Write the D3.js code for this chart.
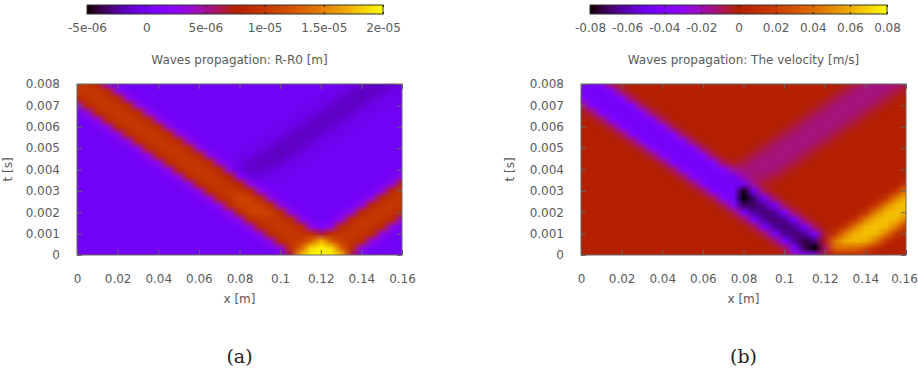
<!DOCTYPE html>
<html><head><meta charset="utf-8">
<script src="https://cdn.jsdelivr.net/npm/d3@7"></script>
<style>
html,body{margin:0;padding:0;background:#fff;}
svg{display:block;}
</style></head><body>
<svg id="chart" width="918" height="390"></svg>
<script>
// ---------------- data ----------------
const xGrid = [0,0.005,0.01,0.015,0.02,0.025,0.03,0.035,0.04,0.045,0.05,0.055,0.06,0.065,0.07,0.075,0.08,0.085,0.09,0.095,0.1,0.105,0.11,0.115,0.12,0.125,0.13,0.135,0.14,0.145,0.15,0.155,0.16];
const tGrid = [0,0.000333,0.000667,0.001,0.001333,0.001667,0.002,0.002333,0.002667,0.003,0.003333,0.003667,0.004,0.004333,0.004667,0.005,0.005333,0.005667,0.006,0.006333,0.006667,0.007,0.007333,0.007667,0.008];
const xTicks = [0,0.02,0.04,0.06,0.08,0.1,0.12,0.14,0.16];
const tTicks = [0,0.001,0.002,0.003,0.004,0.005,0.006,0.007,0.008];
const cbTicksA = [-5e-6,0,5e-6,1e-5,1.5e-5,2e-5];
const cbLabelsA = ["-5e-06","0","5e-06","1e-05","1.5e-05","2e-05"];
const cbTicksB = [-0.08,-0.06,-0.04,-0.02,0,0.02,0.04,0.06,0.08];
const cbLabelsB = ["-0.08","-0.06","-0.04","-0.02","0","0.02","0.04","0.06","0.08"];

// R-R0 in 1e-6 m ; one row per tGrid value, one column per xGrid value
const dispRows = [
[0,0,0,0,0,0,0,0,0,0,0,0,0,0,0,0,0,0,0,0,0.8,6.4,17.2,19.6,20,19.6,17.2,6.4,0.8,0,0,0,0],
[0,0,0,0,0,0,0,0,0,0,0,0,0,0,0,0,0,0,0,0.4,3.2,9,13,18.6,19.6,18.6,13,9,3.2,0.4,0,0,0],
[0,0,0,0,0,0,0,0,0,0,0,0,0,0,0,0,0,0,0.4,3.2,8.6,9.8,10.4,13,17.2,13,10.4,9.8,8.6,3.2,0.4,0,0],
[0,0,0,0,0,0,0,0,0,0,0,0,0,0,0,0,0,0.4,3.2,8.6,9.8,10,9.8,9,6.4,9,9.8,10,9.8,8.6,3.2,0.4,0],
[0,0,0,0,0,0,0,0,0,0,0,0,0,0,0,0,0.4,3.2,8.6,9.8,10,9.8,8.6,3.2,0.8,3.2,8.6,9.8,10,9.8,8.6,3.2,0.4],
[0,0,0,0,0,0,0,0,0,0,0,0,0,0,0,0.4,3.2,8.6,9.8,10,9.8,8.6,3.2,0.4,0,0.4,3.2,8.6,9.8,10,9.8,8.6,3.2],
[0,0,0,0,0,0,0,0,0,0,0,0,0,0,0.4,3.2,8.6,10.8,11,10.8,8.6,3.2,0.4,0,0,0,0.4,3.2,8.6,9.8,10,9.8,8.6],
[0,0,0,0,0,0,0,0,0,0,0,0,0,0.4,3.2,8.6,10.8,11,10.8,8.6,3.2,0.4,0,0,0,0,0,0.4,3.2,8.6,9.8,10,9.8],
[0,0,0,0,0,0,0,0,0,0,0,0,0.4,3.2,8.6,9.8,11,10.8,8.6,3.2,0.4,0,0,0,0,0,0,0,0.4,3.2,8.6,9.8,10],
[0,0,0,0,0,0,0,0,0,0,0,0.4,3.2,8.6,9.8,10,9.8,8.6,3.2,0.4,0,0,0,0,0,0,0,0,0,0.4,3.2,8.6,9.8],
[0,0,0,0,0,0,0,0,0,0,0.4,3.2,8.6,9.7,9.7,9.4,8.2,2.9,0.3,0,0,0,0,0,0,0,0,0,0,0,0.4,3.2,8.6],
[0,0,0,0,0,0,0,0,0,0.4,3.2,8.6,9.8,9.9,9.5,7.9,2.3,-0.5,-0.7,-0.3,-0.1,0,0,0,0,0,0,0,0,0,0,0.4,3.2],
[0,0,0,0,0,0,0,0,0.4,3.2,8.6,9.8,10,9.8,8.5,2.8,-0.5,-1.3,-1.3,-0.9,-0.4,-0.1,0,0,0,0,0,0,0,0,0,0,0.4],
[0,0,0,0,0,0,0,0.4,3.2,8.6,9.8,10,9.8,8.6,3.2,0.3,-0.5,-1.1,-1.5,-1.5,-1.1,-0.5,-0.1,0,0,0,0,0,0,0,0,0,0],
[0,0,0,0,0,0,0.4,3.2,8.6,9.8,10,9.8,8.6,3.2,0.4,0,-0.1,-0.5,-1.1,-1.5,-1.5,-1.1,-0.5,-0.1,0,0,0,0,0,0,0,0,0],
[0,0,0,0,0,0.4,3.2,8.6,9.8,10,9.8,8.6,3.2,0.4,0,0,0,-0.1,-0.5,-1.1,-1.5,-1.5,-1.1,-0.5,-0.1,0,0,0,0,0,0,0,0],
[0,0,0,0,0.4,3.2,8.6,9.8,10,9.8,8.6,3.2,0.4,0,0,0,0,0,-0.1,-0.5,-1.1,-1.5,-1.5,-1.1,-0.5,-0.1,0,0,0,0,0,0,0],
[0,0,0,0.4,3.2,8.6,9.8,10,9.8,8.6,3.2,0.4,0,0,0,0,0,0,0,-0.1,-0.5,-1.1,-1.5,-1.5,-1.1,-0.5,-0.1,0,0,0,0,0,0],
[0,0,0.4,3.2,8.6,9.8,10,9.8,8.6,3.2,0.4,0,0,0,0,0,0,0,0,0,-0.1,-0.5,-1.1,-1.5,-1.5,-1.1,-0.5,-0.1,0,0,0,0,0],
[0,0.4,3.2,8.6,9.8,10,9.8,8.6,3.2,0.4,0,0,0,0,0,0,0,0,0,0,0,-0.1,-0.5,-1.1,-1.5,-1.5,-1.1,-0.5,-0.1,0,0,0,0],
[0.4,3.2,8.6,9.8,10,9.8,8.6,3.2,0.4,0,0,0,0,0,0,0,0,0,0,0,0,0,-0.1,-0.5,-1.1,-1.5,-1.5,-1.1,-0.5,-0.1,0,0,0],
[3.2,8.6,9.8,10,9.8,8.6,3.2,0.4,0,0,0,0,0,0,0,0,0,0,0,0,0,0,0,-0.1,-0.5,-1.1,-1.5,-1.5,-1.1,-0.5,-0.1,0,0],
[8.6,9.8,10,9.8,8.6,3.2,0.4,0,0,0,0,0,0,0,0,0,0,0,0,0,0,0,0,0,-0.1,-0.5,-1.1,-1.5,-1.5,-1.1,-0.5,-0.1,0],
[9.8,10,9.8,8.6,3.2,0.4,0,0,0,0,0,0,0,0,0,0,0,0,0,0,0,0,0,0,0,-0.1,-0.5,-1.1,-1.5,-1.5,-1.1,-0.5,-0.1],
[10,9.8,8.6,3.2,0.4,0,0,0,0,0,0,0,0,0,0,0,0,0,0,0,0,0,0,0,0,0,-0.1,-0.5,-1.1,-1.5,-1.5,-1.1,-0.5]
];

// velocity in 0.01 m/s ; one row per tGrid value, one column per xGrid value
const velRows = [
[0,0,0,0,0,0,0,0,0,0,0,0,0,0,0,0,0,0,0,0,-0.3,-2.2,-3.5,-3,-0.6,0.3,1,0.9,0.3,0,0,0,0],
[0,0,0,0,0,0,0,0,0,0,0,0,0,0,0,0,0,0,0,-0.1,-1,-4.2,-7.2,-8,-1,3.8,4,3.8,2.8,0.9,0.1,0,0],
[0,0,0,0,0,0,0,0,0,0,0,0,0,0,0,0,0,0,-0.1,-1,-4.2,-6.3,-7.4,-6.6,-0.3,4.4,6,6.3,6,4.4,1.4,0.2,0],
[0,0,0,0,0,0,0,0,0,0,0,0,0,0,0,0,0,-0.1,-1,-4.3,-6.3,-6.8,-6.3,-4.3,-0.5,1.5,4.6,6.3,6.6,6.3,4.6,1.5,0.2],
[0,0,0,0,0,0,0,0,0,0,0,0,0,0,0,0,-0.1,-1,-4.3,-6.3,-6.8,-6.3,-4.3,-1,-0.1,0.2,1.5,4.6,6.3,6.6,6.3,4.6,1.5],
[0,0,0,0,0,0,0,0,0,0,0,0,0,0,0,-0.1,-1,-4.3,-6.3,-6.8,-6.3,-4.3,-1,-0.1,0,0,0.2,1.5,4.6,6.3,6.6,6.3,4.6],
[0,0,0,0,0,0,0,0,0,0,0,0,0,0,-0.1,-1,-4.3,-6.3,-6.8,-6.3,-4.3,-1,-0.1,0,0,0,0,0.2,1.5,4.6,6.3,6.6,6.3],
[0,0,0,0,0,0,0,0,0,0,0,0,0,-0.1,-1,-3.8,-7,-7,-6.3,-4.3,-1,-0.1,0,0,0,0,0,0,0.2,1.5,4.6,6.3,6.6],
[0,0,0,0,0,0,0,0,0,0,0,0,-0.1,-1,-3.8,-4.5,-8.2,-6.8,-4.3,-1,-0.1,0,0,0,0,0,0,0,0,0.2,1.5,4.6,6.3],
[0,0,0,0,0,0,0,0,0,0,0,-0.1,-1,-3.8,-4.5,-4.6,-7.8,-4.5,-1,-0.1,0,0,0,0,0,0,0,0,0,0,0.2,1.5,4.6],
[0,0,0,0,0,0,0,0,0,0,-0.1,-1,-3.9,-4.7,-4.7,-4.7,-4.65,-1.6,-0.45,-0.1,0,0,0,0,0,0,0,0,0,0,0,0.2,1.5],
[0,0,0,0,0,0,0,0,0,-0.1,-1,-3.8,-4.5,-4.7,-4.7,-4.7,-2,-1.1,-1,-0.6,-0.2,0,0,0,0,0,0,0,0,0,0,0,0.2],
[0,0,0,0,0,0,0,0,-0.1,-1,-3.8,-4.5,-4.6,-4.5,-4,-1.7,-1.3,-1.3,-1.3,-1.2,-0.7,-0.2,0,0,0,0,0,0,0,0,0,0,0],
[0,0,0,0,0,0,0,-0.1,-1,-3.8,-4.5,-4.6,-4.5,-3.8,-1,-0.3,-0.7,-1.2,-1.3,-1.3,-1.2,-0.7,-0.2,0,0,0,0,0,0,0,0,0,0],
[0,0,0,0,0,0,-0.1,-1,-3.8,-4.5,-4.6,-4.5,-3.8,-1,-0.1,0,-0.2,-0.7,-1.2,-1.3,-1.3,-1.2,-0.7,-0.2,0,0,0,0,0,0,0,0,0],
[0,0,0,0,0,-0.1,-1,-3.8,-4.5,-4.6,-4.5,-3.8,-1,-0.1,0,0,0,-0.2,-0.7,-1.2,-1.3,-1.3,-1.2,-0.7,-0.2,0,0,0,0,0,0,0,0],
[0,0,0,0,-0.1,-1,-3.8,-4.5,-4.6,-4.5,-3.8,-1,-0.1,0,0,0,0,0,-0.2,-0.7,-1.2,-1.3,-1.3,-1.2,-0.7,-0.2,0,0,0,0,0,0,0],
[0,0,0,-0.1,-1,-3.8,-4.5,-4.6,-4.5,-3.8,-1,-0.1,0,0,0,0,0,0,0,-0.2,-0.7,-1.2,-1.3,-1.3,-1.2,-0.7,-0.2,0,0,0,0,0,0],
[0,0,-0.1,-1,-3.8,-4.5,-4.6,-4.5,-3.8,-1,-0.1,0,0,0,0,0,0,0,0,0,-0.2,-0.7,-1.2,-1.3,-1.3,-1.2,-0.7,-0.2,0,0,0,0,0],
[0,-0.1,-1,-3.8,-4.5,-4.6,-4.5,-3.8,-1,-0.1,0,0,0,0,0,0,0,0,0,0,0,-0.2,-0.7,-1.2,-1.3,-1.3,-1.2,-0.7,-0.2,0,0,0,0],
[-0.1,-1,-3.8,-4.5,-4.6,-4.5,-3.8,-1,-0.1,0,0,0,0,0,0,0,0,0,0,0,0,0,-0.2,-0.7,-1.2,-1.3,-1.3,-1.2,-0.7,-0.2,0,0,0],
[-1,-3.8,-4.5,-4.6,-4.5,-3.8,-1,-0.1,0,0,0,0,0,0,0,0,0,0,0,0,0,0,0,-0.2,-0.7,-1.2,-1.3,-1.3,-1.2,-0.7,-0.2,0,0],
[-3.8,-4.5,-4.6,-4.5,-3.8,-1,-0.1,0,0,0,0,0,0,0,0,0,0,0,0,0,0,0,0,0,-0.2,-0.7,-1.2,-1.3,-1.3,-1.2,-0.7,-0.2,0],
[-4.5,-4.6,-4.5,-3.8,-1,-0.1,0,0,0,0,0,0,0,0,0,0,0,0,0,0,0,0,0,0,0,-0.2,-0.7,-1.2,-1.3,-1.3,-1.2,-0.7,-0.2],
[-4.6,-4.5,-3.8,-1,-0.1,0,0,0,0,0,0,0,0,0,0,0,0,0,0,0,0,0,0,0,0,0,-0.2,-0.7,-1.2,-1.3,-1.3,-1.2,-0.7]
];

[dispRows, velRows].forEach((rows, k) => {
  if (rows.length !== tGrid.length) throw new Error("rows " + k + " count " + rows.length);
  rows.forEach((r, i) => { if (r.length !== xGrid.length) throw new Error("grid " + k + " row " + i + " len " + r.length); });
});

// ---------------- drawing ----------------
// gnuplot default palette: rgbformulae 7,5,15
const gp = t => {
  t = Math.max(0, Math.min(1, t));
  const r = Math.sqrt(t), g = t * t * t, b = Math.max(0, Math.sin(2 * Math.PI * t));
  return d3.rgb(Math.round(r * 255), Math.round(g * 255), Math.round(b * 255)).formatHex();
};

const svg = d3.select("#chart");
svg.append("rect").attr("width", 918).attr("height", 390).attr("fill", "#fff");
const FONT = "'DejaVu Sans', sans-serif";
const TXT = "#5a5a5a";
const LINE = "#666";

const grad = svg.append("defs").append("linearGradient").attr("id", "gpgrad")
  .attr("x1", "0%").attr("x2", "100%").attr("y1", "0%").attr("y2", "0%");
d3.range(0, 81).forEach(i => grad.append("stop").attr("offset", (i / 80 * 100) + "%").attr("stop-color", gp(i / 80)));

const fmt = d => d === 0 ? "0" : String(+d.toFixed(4));

const panels = [
  {id: "a", rows: dispRows, unit: 1e-6, cbDomain: [-5e-6, 2e-5], cbTicks: cbTicksA, cbLabels: cbLabelsA,
   title: "Waves propagation: R-R0 [m]", caption: "(a)", plotX: [77, 402], cbX: [87, 383], ylabX: 12},
  {id: "b", rows: velRows, unit: 0.01, cbDomain: [-0.08, 0.08], cbTicks: cbTicksB, cbLabels: cbLabelsB,
   title: "Waves propagation: The velocity [m/s]", caption: "(b)", plotX: [581, 906], cbX: [590, 887], ylabX: 514}
];

function styleAxis(g) {
  g.select(".domain").remove();
  g.selectAll(".tick line").attr("stroke", LINE).attr("stroke-width", 1);
  g.selectAll(".tick text").attr("fill", TXT).attr("font-size", 12).attr("font-family", FONT);
}

panels.forEach(p => {
  const x = d3.scaleLinear().domain([0, 0.16]).range(p.plotX);
  const y = d3.scaleLinear().domain([0, 0.008]).range([255, 84]);
  const color = d3.scaleSequential(gp).domain(p.cbDomain).clamp(true);
  const g = svg.append("g");

  // heatmap image built from the grid, smoothed by the browser when scaled
  const nx = xGrid.length, nt = tGrid.length;
  const cv = document.createElement("canvas");
  cv.width = nx; cv.height = nt;
  const ctx = cv.getContext("2d");
  const img = ctx.createImageData(nx, nt);
  p.rows.forEach((row, r) => row.forEach((v, c) => {
    const col = d3.rgb(color(v * p.unit));
    const k = ((nt - 1 - r) * nx + c) * 4;
    img.data[k] = col.r; img.data[k + 1] = col.g; img.data[k + 2] = col.b; img.data[k + 3] = 255;
  }));
  ctx.putImageData(img, 0, 0);
  const hx = (xGrid[1] - xGrid[0]) / 2, ht = (tGrid[1] - tGrid[0]) / 2;
  const clipId = "clip" + p.id;
  svg.append("clipPath").attr("id", clipId).append("rect")
    .attr("x", x(0)).attr("y", y(0.008)).attr("width", x(0.16) - x(0)).attr("height", y(0) - y(0.008));
  g.append("image")
    .attr("href", cv.toDataURL())
    .attr("x", x(xGrid[0] - hx)).attr("y", y(tGrid[nt - 1] + ht))
    .attr("width", x(xGrid[nx - 1] + hx) - x(xGrid[0] - hx))
    .attr("height", y(tGrid[0] - ht) - y(tGrid[nt - 1] + ht))
    .attr("preserveAspectRatio", "none")
    .attr("clip-path", `url(#${clipId})`);

  // border
  g.append("rect").attr("x", x(0)).attr("y", y(0.008)).attr("width", x(0.16) - x(0)).attr("height", y(0) - y(0.008))
    .attr("fill", "none").attr("stroke", LINE).attr("stroke-width", 1);

  // axes (ticks inside, mirrored)
  const bx = g.append("g").attr("transform", `translate(0,${y(0)})`)
    .call(d3.axisBottom(x).tickValues(xTicks).tickSize(-5).tickPadding(19.5).tickFormat(fmt)).call(styleAxis);
  if (p.id === "b") bx.selectAll(".tick text").filter(d => d === 0.16).attr("dx", -2);
  g.append("g").attr("transform", `translate(0,${y(0.008)})`)
    .call(d3.axisTop(x).tickValues(xTicks).tickSize(-5).tickFormat("")).call(styleAxis);
  g.append("g").attr("transform", `translate(${x(0)},0)`)
    .call(d3.axisLeft(y).tickValues(tTicks).tickSize(-5).tickPadding(17).tickFormat(fmt)).call(styleAxis);
  g.append("g").attr("transform", `translate(${x(0.16)},0)`)
    .call(d3.axisRight(y).tickValues(tTicks).tickSize(-5).tickFormat("")).call(styleAxis);

  // axis labels
  const cx = (p.plotX[0] + p.plotX[1]) / 2;
  g.append("text").attr("x", cx).attr("y", 303).attr("text-anchor", "middle")
    .attr("font-family", FONT).attr("font-size", 12).attr("fill", TXT).text("x [m]");
  g.append("text").attr("transform", `translate(${p.ylabX},${(y(0) + y(0.008)) / 2}) rotate(-90)`)
    .attr("text-anchor", "middle").attr("font-family", FONT).attr("font-size", 12).attr("fill", TXT).text("t [s]");

  // colorbar
  const cb = d3.scaleLinear().domain(p.cbDomain).range(p.cbX);
  g.append("rect").attr("x", cb(p.cbDomain[0])).attr("y", 5).attr("width", cb(p.cbDomain[1]) - cb(p.cbDomain[0])).attr("height", 9)
    .attr("fill", "url(#gpgrad)").attr("stroke", "#333").attr("stroke-width", 1);
  const cbBottom = g.append("g").attr("transform", "translate(0,14)")
    .call(d3.axisBottom(cb).tickValues(p.cbTicks).tickSize(-2).tickPadding(9.5)
      .tickFormat(d => p.cbLabels[p.cbTicks.indexOf(d)])).call(styleAxis);
  cbBottom.selectAll(".tick line").attr("stroke", "#222");
  const cbTop = g.append("g").attr("transform", "translate(0,5)")
    .call(d3.axisTop(cb).tickValues(p.cbTicks).tickSize(-2).tickFormat("")).call(styleAxis);
  cbTop.selectAll(".tick line").attr("stroke", "#222");

  // title
  g.append("text").attr("x", cx).attr("y", 64).attr("text-anchor", "middle")
    .attr("font-family", FONT).attr("font-size", 12).attr("fill", TXT).text(p.title);

  // caption
  g.append("text").attr("x", cx).attr("y", 363).attr("text-anchor", "middle")
    .attr("font-family", "'DejaVu Serif', serif").attr("font-size", 19).attr("fill", "#222").text(p.caption);
});
</script>
</body></html>
